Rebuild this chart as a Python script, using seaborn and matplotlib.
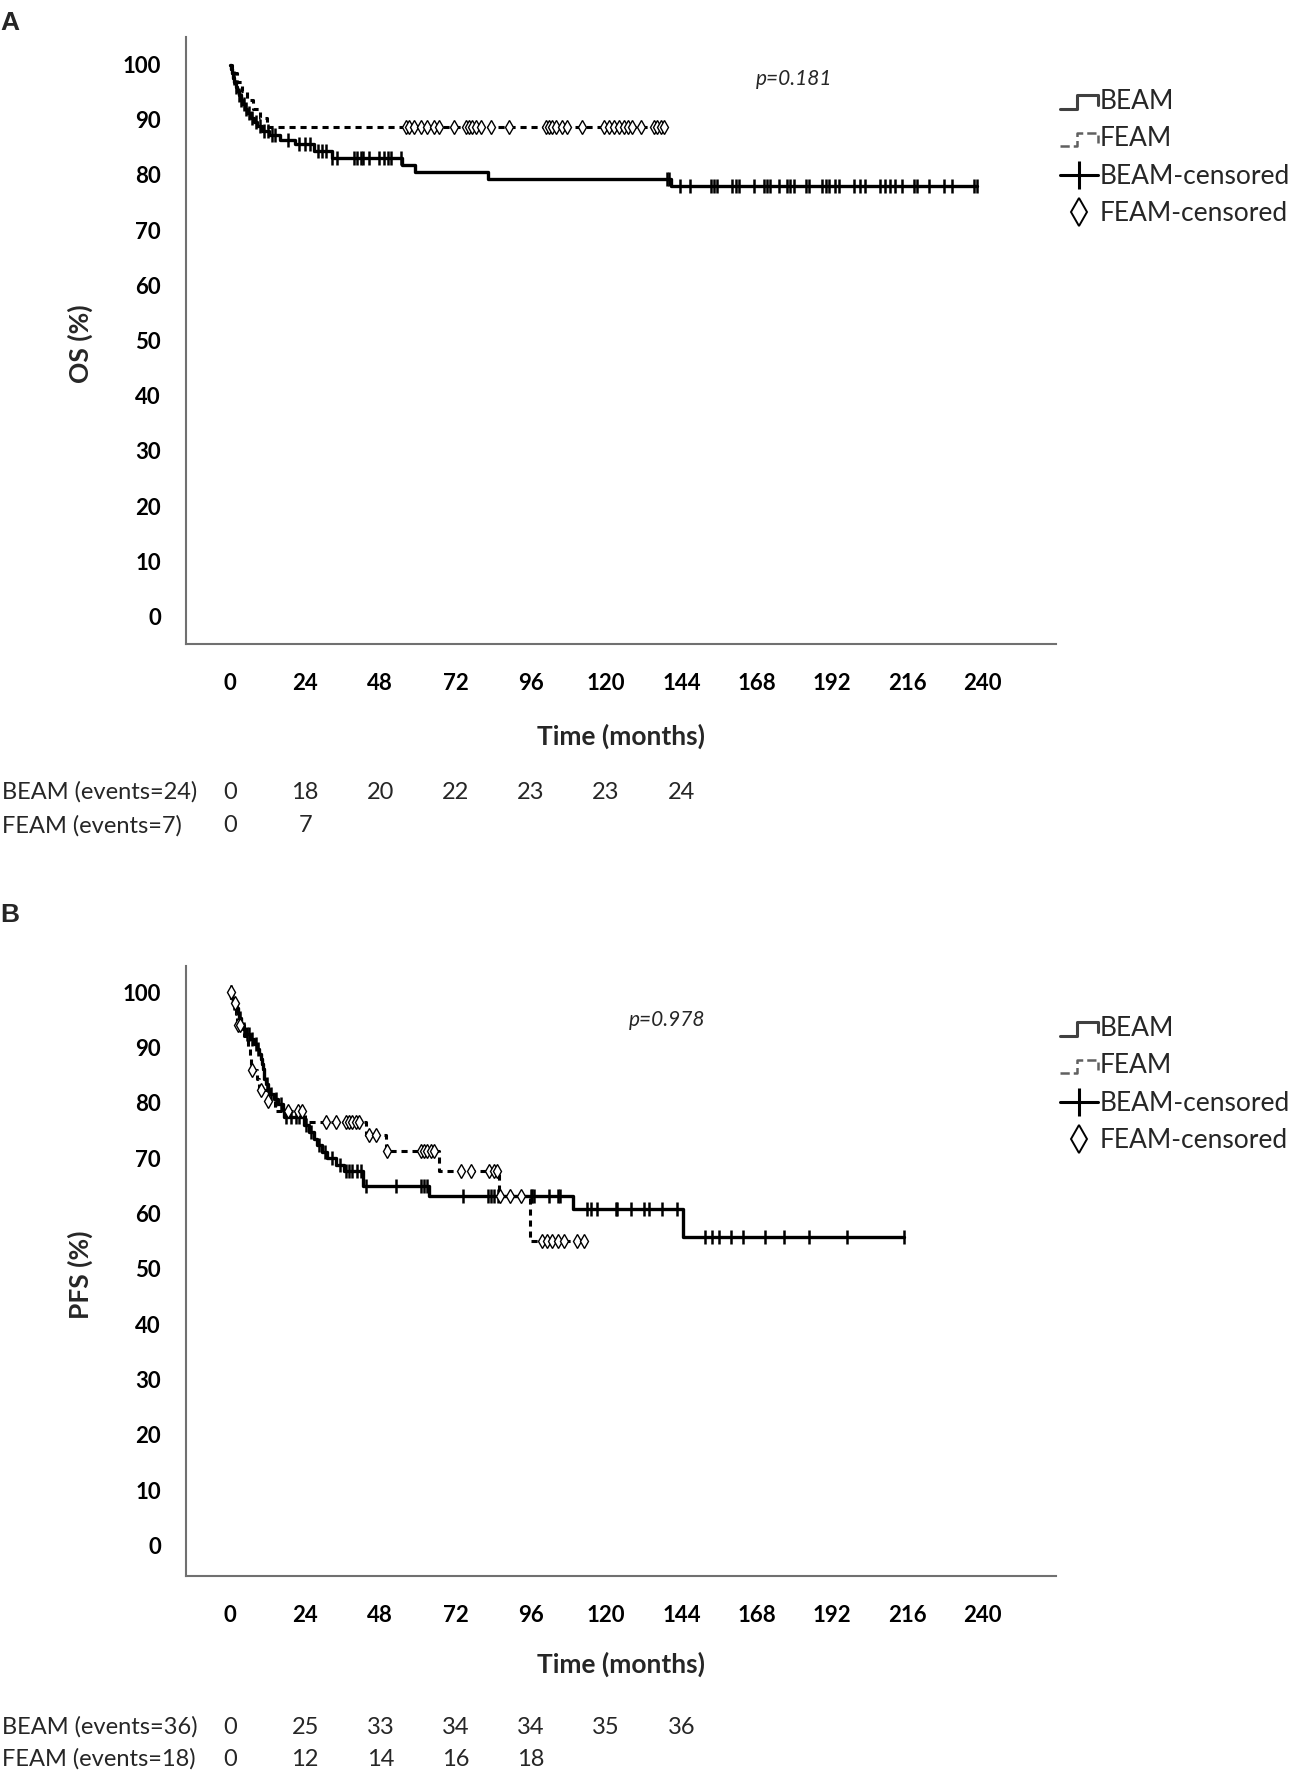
import numpy as np
import pandas as pd
import matplotlib
matplotlib.use("Agg")
import matplotlib.pyplot as plt
import matplotlib.transforms as mtransforms
from matplotlib.lines import Line2D
from matplotlib.legend_handler import HandlerBase, HandlerLine2D
import seaborn as sns

# ---------------------------------------------------------------
# dados (meses, sobrevida %)
# ---------------------------------------------------------------
x_ticks = [0, 24, 48, 72, 96, 120, 144, 168, 192, 216, 240]
y_ticks = [0, 10, 20, 30, 40, 50, 60, 70, 80, 90, 100]

# A - OS
os_beam_evt_t = [0.3, 0.6, 1.0, 1.4, 1.8, 2.3, 2.8, 3.4, 4.0, 4.8, 5.6, 6.6,
                 7.6, 8.8, 10.2, 12.5, 16.0, 20.9, 26.8, 32.6, 55.0, 59.2, 82.3, 140.6]
os_beam_evt_s = [99.2, 98.4, 97.6, 96.8, 96.0, 95.2, 94.4, 93.6, 92.8, 92.0, 91.2, 90.4,
                 89.6, 88.8, 88.0, 87.2, 86.4, 85.6, 84.4, 83.1, 81.8, 80.5, 79.3, 78.0]
os_beam_end = 238.3
os_beam_cens = [1.2, 2.0, 3.0, 3.7, 4.4, 5.2, 6.0, 7.0, 8.2, 9.5, 11.0, 12.0, 13.5, 14.5,
                18.5, 22.0, 24.0, 25.5, 28.0, 29.5, 30.5,
                32.7, 34.3, 39.6, 40.7, 41.8, 42.6, 44.4, 47.6, 49.2, 50.3, 51.4, 54.5,
                139.3, 140.0,
                143.7, 146.9, 153.3, 154.4, 155.4, 160.2, 161.3, 162.3, 167.1, 170.3, 171.4,
                172.4, 175.1, 177.7, 178.8, 179.9, 183.6, 184.6, 188.9, 190.0, 191.0, 193.1,
                194.2, 199.0, 201.1, 202.7, 207.5, 209.1, 210.7, 212.3, 214.4, 218.1, 219.2,
                222.9, 227.7, 230.3, 237.2, 238.3]

os_feam_evt_t = [0.8, 2.2, 3.8, 5.5, 7.5, 9.5, 11.8]
os_feam_evt_s = [98.4, 96.8, 95.2, 93.5, 91.9, 90.3, 88.7]
os_feam_end = 138.4
os_feam_cens = [56.1, 57.2, 58.7, 60.9, 63.0, 65.1, 66.7, 71.5, 75.2, 76.3, 77.3, 78.4,
                80.0, 83.2, 89.0, 100.7, 101.8, 102.8, 103.9, 106.0, 107.6, 112.4, 119.3,
                120.9, 122.5, 124.1, 125.7, 127.0, 128.3, 131.0, 135.2, 136.3, 137.4, 138.4]

# B - PFS
pfs_beam_evt_t = [0.5, 1.0, 1.9, 2.5, 3.0, 3.6, 4.1, 5.2, 6.5, 7.8, 8.6, 9.4, 10.0, 10.3,
                  10.5, 10.8, 11.0, 11.5, 12.2, 12.6, 14.0, 15.3, 16.8, 17.2, 23.7,
                  25.3, 26.9, 27.9, 29.5, 31.1, 33.8, 36.4, 42.6, 63.5, 109.5, 144.6]
pfs_beam_evt_s = [99.0, 98.1, 97.1, 96.2, 95.3, 94.3, 93.4, 92.4, 91.5, 90.6, 89.7, 88.8,
                  87.9, 87.0, 86.1, 85.2, 84.3, 83.4, 82.5, 81.6, 80.6, 79.7, 78.7, 77.4,
                  75.9, 74.7, 73.5, 72.3, 71.1, 70.0, 68.8, 67.6, 64.9, 63.1, 60.8, 55.7]
pfs_beam_end = 214.9
pfs_beam_cens = [0.2, 1.3, 2.2, 3.3, 4.5, 5.6, 6.0, 7.2, 8.2, 9.0, 11.8, 13.2, 14.6, 16.2,
                 18.0, 19.5, 21.0, 22.2, 24.2, 26.0, 28.5, 30.3, 32.5, 35.0,
                 37.0, 38.0, 39.1, 40.7, 41.8, 43.3, 52.9, 60.8, 61.8, 62.9,
                 74.3, 82.2, 83.3, 84.3, 85.4, 96.0, 96.5, 97.1, 101.8, 104.5, 105.3,
                 113.8, 115.3, 117.2, 123.0, 123.6, 127.8, 132.1, 133.6, 137.9, 142.7,
                 151.7, 153.8, 156.0, 159.7, 163.7, 170.8, 176.7, 184.6, 196.9, 214.9]

pfs_feam_evt_t = [1.0, 2.0, 2.4, 4.5, 5.9, 6.3, 6.6, 8.8, 9.4, 12.0, 14.5, 23.9,
                  43.3, 49.7, 66.7, 85.8, 95.7]
pfs_feam_evt_s = [98.0, 96.0, 94.0, 92.0, 90.0, 88.0, 86.0, 84.2, 82.3, 80.4, 78.5, 76.5,
                  74.1, 71.3, 67.6, 63.2, 55.1]
pfs_feam_end = 113.0
pfs_feam_cens = [0.4, 1.6, 2.7, 3.2, 6.9, 9.8, 12.3, 18.4, 21.6, 23.0, 30.6, 33.8, 37.0,
                 38.0, 39.1, 40.1, 41.2, 44.4, 46.5, 50.2, 60.8, 61.8, 62.9, 64.0, 65.0,
                 73.6, 76.8, 82.6, 84.2, 85.3, 86.3, 89.5, 92.7, 99.7, 101.3, 102.9, 104.5,
                 106.6, 110.8, 113.0]

# tabela de eventos
os_risk_labels = ['BEAM (events=24)', 'FEAM (events=7)']
os_risk_beam = [0, 18, 20, 22, 23, 23, 24]
os_risk_feam = [0, 7]
pfs_risk_labels = ['BEAM (events=36)', 'FEAM (events=18)']
pfs_risk_beam = [0, 25, 33, 34, 34, 35, 36]
pfs_risk_feam = [0, 12, 14, 16, 18]

# ---------------------------------------------------------------
sns.set_style('white')
plt.rcParams['font.family'] = ['Lato', 'DejaVu Sans']


def curva(evt_t, evt_s, fim):
    t = [0.0] + list(evt_t) + [fim]
    s = [100.0] + list(evt_s) + [evt_s[-1]]
    return pd.DataFrame({'t': t, 's': s})


def y_censura(evt_t, evt_s, cens):
    t = np.array([0.0] + list(evt_t))
    s = np.array([100.0] + list(evt_s))
    idx = np.searchsorted(t, np.array(cens), side='right') - 1
    return pd.DataFrame({'t': cens, 's': s[idx]})


class HandlerStep(HandlerBase):
    def create_artists(self, legend, orig_handle, xdescent, ydescent,
                       width, height, fontsize, trans):
        xs = np.array([0.0, 0.45, 0.45, 1.0, 1.0]) * width - xdescent
        ys = np.array([0.0, 0.0, 0.75, 0.75, 0.2]) * height - ydescent
        ln = Line2D(xs, ys, color=orig_handle.get_color(),
                    lw=orig_handle.get_linewidth(),
                    linestyle=orig_handle.get_linestyle())
        ln.set_transform(trans)
        return [ln]


fig = plt.figure(figsize=(12.99, 17.70), dpi=100)
W, H = 1299.0, 1770.0


def painel(rect, beam, feam, ylabel, pval, pxy, risk_labels, risk_b, risk_f,
           risk_y, label_x, leg_top, letra, letra_y, ylim):
    ax = fig.add_axes(rect)
    b_ev_t, b_ev_s, b_end, b_cens = beam
    f_ev_t, f_ev_s, f_end, f_cens = feam

    sns.lineplot(data=curva(b_ev_t, b_ev_s, b_end), x='t', y='s', ax=ax,
                 drawstyle='steps-post', color='black', lw=2.4, estimator=None)
    sns.lineplot(data=curva(f_ev_t, f_ev_s, f_end), x='t', y='s', ax=ax,
                 drawstyle='steps-post', color='black', lw=2.2, estimator=None)
    ax.lines[-1].set_dashes((2.0, 1.6))

    cb = y_censura(b_ev_t, b_ev_s, b_cens)
    ax.plot(cb.t, cb.s, linestyle='none', marker='|', ms=10, mew=1.8, color='black')
    cf = y_censura(f_ev_t, f_ev_s, f_cens)
    ax.plot(cf.t, cf.s, linestyle='none', marker='d', ms=7, mew=1.0,
            mfc='white', mec='black')

    ax.set_xlim(-14, 263.5)
    ax.set_ylim(*ylim)
    ax.set_xticks(x_ticks)
    ax.set_yticks(y_ticks)
    for lab in ax.get_xticklabels() + ax.get_yticklabels():
        lab.set_fontweight('bold')
        lab.set_fontsize(16)
    ax.tick_params(axis='both', direction='out', length=10, width=1.2,
                   color='#b0b0b0', labelcolor='black')
    ax.tick_params(axis='x', pad=11)
    ax.tick_params(axis='y', pad=8)
    sns.despine(ax=ax)
    for sp in ['left', 'bottom']:
        ax.spines[sp].set_color('#707070')
        ax.spines[sp].set_linewidth(1.5)

    ax.set_xlabel('Time (months)', fontsize=19, fontweight='bold')
    ax.set_ylabel(ylabel, fontsize=19, fontweight='bold')
    ax.xaxis.label.set_va('center')
    ax.yaxis.label.set_va('center')
    ax.xaxis.set_label_coords(0.5, label_x[0])
    ax.yaxis.set_label_coords(label_x[1], 0.494)

    ax.text(pxy[0], pxy[1], pval, fontsize=15, style='italic',
            ha='center', va='center')

    # legenda
    h_b = Line2D([], [], color='#404040', lw=2.2)
    h_f = Line2D([], [], color='#606060', lw=1.8, linestyle=(0, (1.2, 1.2)))
    h_bc = Line2D([], [], color='black', lw=2.2, marker='|', ms=20, mew=2.2)
    h_fc = Line2D([], [], color='black', linestyle='none', marker='d', ms=14,
                  mew=1.4, mfc='white', mec='black')
    ax.legend([h_b, h_f, h_bc, h_fc],
              ['BEAM', 'FEAM', 'BEAM-censored', 'FEAM-censored'],
              handler_map={h_b: HandlerStep(), h_f: HandlerStep(),
                           h_bc: HandlerLine2D(numpoints=1)},
              loc='upper left', bbox_to_anchor=(1060 / W, leg_top),
              bbox_transform=fig.transFigure, frameon=False,
              fontsize=19, handlelength=1.45, handletextpad=0.05,
              labelspacing=0.47, borderpad=0, borderaxespad=0)

    # tabela de eventos
    trans = mtransforms.blended_transform_factory(ax.transData, fig.transFigure)
    for lbl, vals, yy in zip(risk_labels, [risk_b, risk_f], risk_y):
        fig.text(2 / W, yy, lbl, fontsize=17, ha='left', va='center')
        for xv, v in zip(x_ticks, vals):
            ax.text(xv, yy, str(v), fontsize=17, ha='center', va='center',
                    transform=trans)

    fig.text(10 / W, letra_y, letra, fontsize=19, fontweight='bold',
             ha='center', va='center', family=['Liberation Sans', 'DejaVu Sans'])
    return ax


painel([186 / W, 1 - 644 / H, 870 / W, 607 / H],
       (os_beam_evt_t, os_beam_evt_s, os_beam_end, os_beam_cens),
       (os_feam_evt_t, os_feam_evt_s, os_feam_end, os_feam_cens),
       'OS (%)', 'p=0.181', (180, 97.3), os_risk_labels, os_risk_beam, os_risk_feam,
       [1 - 792 / H, 1 - 826 / H], (-0.152, -0.121), 1 - 89 / H, 'A', 1 - 23 / H,
       (-5.0, 105.0))

painel([186 / W, 1 - 1576 / H, 870 / W, 610 / H],
       (pfs_beam_evt_t, pfs_beam_evt_s, pfs_beam_end, pfs_beam_cens),
       (pfs_feam_evt_t, pfs_feam_evt_s, pfs_feam_end, pfs_feam_cens),
       'PFS (%)', 'p=0.978', (139.4, 94.9), pfs_risk_labels, pfs_risk_beam, pfs_risk_feam,
       [1 - 1727 / H, 1 - 1759 / H], (-0.144, -0.121), 1 - 1016 / H, 'B', 1 - 915 / H,
       (-5.5, 104.7))

fig.savefig('out.png', dpi=100)
